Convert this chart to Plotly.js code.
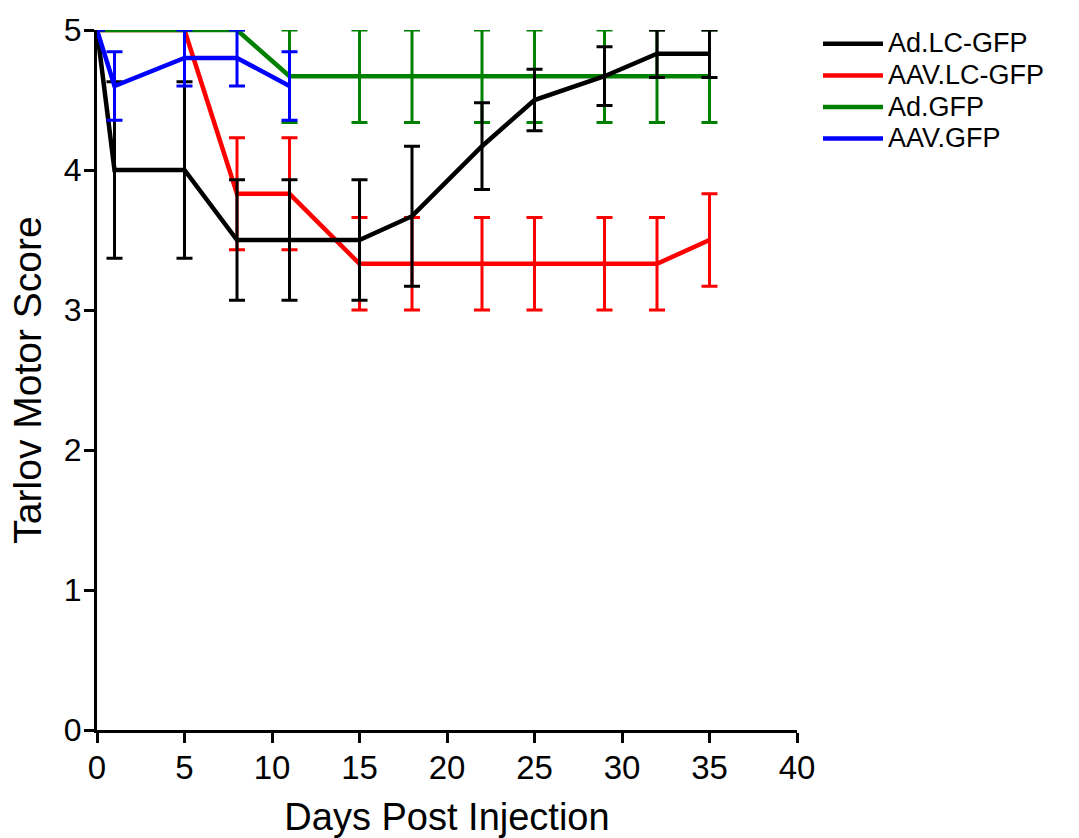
<!DOCTYPE html>
<html>
<head>
<meta charset="utf-8">
<script src="https://cdn.plot.ly/plotly-3.0.1.min.js"></script>
<style>
html,body{margin:0;padding:0;background:#fff;}
#chart{width:1079px;height:838px;}
</style>
</head>
<body>
<div id="chart"></div>
<script>
// Days post injection
const daysAll = [0, 1, 5, 8, 11, 15, 18, 22, 25, 29, 32, 35];
const daysAAVGFP = [0, 1, 5, 8, 11];

// Ad.LC-GFP (black)
const adLcMean = [5, 4.0, 4.0, 3.5, 3.5, 3.5, 3.67, 4.17, 4.5, 4.67, 4.83, 4.83];
const adLcErr  = [0, 0.63, 0.63, 0.43, 0.43, 0.43, 0.5, 0.31, 0.22, 0.21, 0.17, 0.17];

// AAV.LC-GFP (red)
const aavLcMean = [5, 5, 5, 3.83, 3.83, 3.33, 3.33, 3.33, 3.33, 3.33, 3.33, 3.5];
const aavLcErr  = [0, 0, 0, 0.4, 0.4, 0.33, 0.33, 0.33, 0.33, 0.33, 0.33, 0.33];

// Ad.GFP (green)
const adGfpMean = [5, 5, 5, 5, 4.67, 4.67, 4.67, 4.67, 4.67, 4.67, 4.67, 4.67];
const adGfpErr  = [0, 0, 0, 0, 0.33, 0.33, 0.33, 0.33, 0.33, 0.33, 0.33, 0.33];

// AAV.GFP (blue)
const aavGfpMean = [5, 4.6, 4.8, 4.8, 4.6];
const aavGfpErr  = [0, 0.245, 0.2, 0.2, 0.245];

const xTicks = [0, 5, 10, 15, 20, 25, 30, 35, 40];
const yTicks = [0, 1, 2, 3, 4, 5];

function series(name, x, y, err, color, rank) {
  return {
    type: 'scatter', mode: 'lines',
    name: '<span style="font-size:27px">' + name + '</span>',
    x: x, y: y,
    line: {color: color, width: 4.5},
    error_y: {type: 'data', array: err, visible: true, color: color, thickness: 3, width: 8},
    cliponaxis: false,
    legendrank: rank
  };
}

const data = [
  series('AAV.LC-GFP', daysAll, aavLcMean, aavLcErr, '#ff0000', 2),
  series('Ad.GFP', daysAll, adGfpMean, adGfpErr, '#008000', 3),
  series('Ad.LC-GFP', daysAll, adLcMean, adLcErr, '#000000', 1),
  series('AAV.GFP', daysAAVGFP, aavGfpMean, aavGfpErr, '#0000ff', 4)
];

const layout = {
  width: 1079, height: 838,
  paper_bgcolor: '#fff', plot_bgcolor: '#fff',
  margin: {l: 97, r: 282, t: 30, b: 108, autoexpand: false},
  font: {family: '"Liberation Sans", Arial, sans-serif', color: '#000'},
  showlegend: true,
  legend: {
    x: 1.03, xanchor: 'left', y: 1.01, yanchor: 'top',
    font: {size: 22, color: '#000'},
    itemwidth: 60,
    traceorder: 'normal',
    bgcolor: 'rgba(0,0,0,0)'
  },
  xaxis: {
    range: [0, 40], tickvals: xTicks, ticktext: xTicks.map(String),
    showline: true, linewidth: 3, linecolor: '#000',
    ticks: 'outside', ticklen: 10, tickwidth: 3, tickcolor: '#000',
    showgrid: false, zeroline: false,
    tickfont: {size: 33}, ticklabelstandoff: -4,
    title: {text: 'Days Post Injection', font: {size: 38}, standoff: 19},
    automargin: false
  },
  yaxis: {
    range: [0, 5], tickvals: yTicks, ticktext: yTicks.map(String),
    showline: true, linewidth: 3, linecolor: '#000',
    ticks: 'outside', ticklen: 10, tickwidth: 3, tickcolor: '#000',
    showgrid: false, zeroline: false,
    tickfont: {size: 32}, ticklabelstandoff: -4,
    title: {text: 'Tarlov Motor Score', font: {size: 39}, standoff: 11},
    automargin: false
  }
};

Plotly.newPlot('chart', data, layout, {displayModeBar: false, staticPlot: true});
</script>
</body>
</html>
